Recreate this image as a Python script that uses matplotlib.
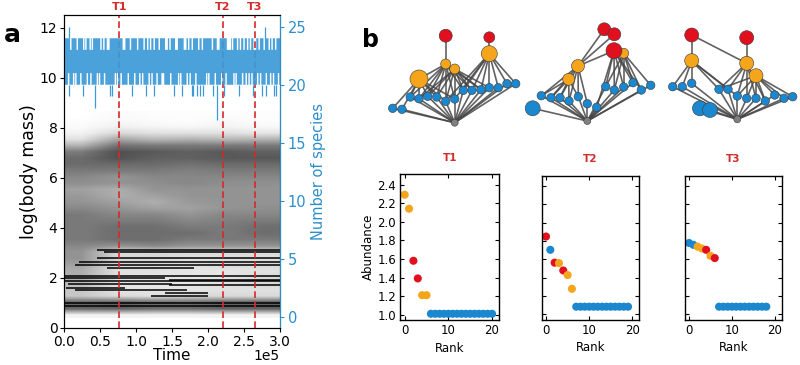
import numpy as np
import matplotlib
matplotlib.use("Agg")
import matplotlib.pyplot as plt
from matplotlib.colors import LinearSegmentedColormap
from matplotlib.collections import LineCollection
from matplotlib.transforms import blended_transform_factory

# ---------------- data: panel a ----------------
snapshot_times = [0.765e5, 2.203e5, 2.648e5]
snapshot_labels = ["T1", "T2", "T3"]

# density of body-mass points (rows: mass 8.5 -> 0.5 step 0.25; cols: time 0-3e5 in 6 blocks)
mass_density = [
    [.00, .02, .01, .01, .01, .01],
    [.01, .03, .02, .01, .03, .01],
    [.02, .06, .04, .03, .05, .03],
    [.05, .15, .12, .12, .12, .10],
    [.12, .35, .28, .30, .28, .30],
    [.30, .55, .52, .52, .52, .52],
    [.52, .68, .65, .62, .65, .62],
    [.58, .68, .62, .62, .65, .65],
    [.58, .58, .58, .55, .58, .58],
    [.52, .52, .52, .50, .52, .52],
    [.47, .42, .47, .47, .47, .47],
    [.44, .42, .44, .47, .44, .44],
    [.37, .32, .42, .42, .42, .42],
    [.40, .32, .37, .42, .42, .42],
    [.42, .37, .32, .40, .42, .42],
    [.47, .42, .37, .37, .42, .44],
    [.52, .47, .47, .42, .47, .47],
    [.52, .52, .52, .47, .50, .52],
    [.52, .57, .57, .52, .52, .57],
    [.52, .57, .57, .57, .52, .57],
    [.52, .57, .57, .52, .52, .52],
    [.47, .42, .47, .42, .42, .42],
    [.42, .15, .15, .15, .15, .15],
    [.42, .15, .15, .12, .12, .12],
    [.37, .15, .15, .12, .15, .15],
    [.32, .12, .12, .10, .10, .12],
    [.32, .12, .10, .10, .10, .15],
    [.27, .10, .10, .10, .12, .15],
    [.22, .10, .10, .10, .12, .12],
    [.22, .15, .12, .15, .15, .15],
    [.60, .62, .58, .58, .62, .62],
    [.60, .62, .58, .58, .62, .62],
    [.05, .05, .05, .05, .05, .05],
]
# persistent lineages: (log mass, start time [1e5], end time [1e5])
lineages = [
    (3.10, 0.45, 3.0), (3.03, 0.55, 3.0), (2.78, 0.45, 3.0), (2.62, 0.20, 3.0),
    (2.50, 0.15, 3.0), (2.40, 0.60, 1.80), (2.05, 0.00, 3.0), (1.98, 0.00, 1.40),
    (1.92, 1.45, 3.0), (1.85, 0.00, 3.0), (1.75, 0.05, 1.50), (1.70, 1.45, 3.0),
    (1.60, 0.02, 0.85), (1.52, 0.15, 1.70), (1.38, 1.40, 2.00), (1.25, 1.20, 2.00),
    (0.98, 0.00, 3.0), (0.88, 0.00, 3.0),
]

# number of species: usual range and deviations (times in 1e5)
species_usual_min = 20
species_usual_max = 24
max23_times = [0.08, 0.17, 0.26, 0.29, 0.35, 0.38, 0.50, 0.54, 0.59, 0.61, 0.81, 0.83,
               0.91, 1.01, 1.10, 1.15, 1.19, 1.24, 1.31, 1.40, 1.42, 1.46, 1.54, 1.56,
               1.66, 1.68, 1.72, 1.77, 1.86, 1.91, 2.05, 2.12, 2.14, 2.26, 2.28, 2.30,
               2.33, 2.40, 2.44, 2.49, 2.54, 2.58, 2.63, 2.65, 2.70, 2.77, 2.84, 2.88, 2.93]
min21_times = [0.05, 0.12, 0.15, 0.22, 0.31, 0.36, 0.45, 0.48, 0.55, 0.70, 0.73, 0.78,
               0.88, 0.97, 1.04, 1.08, 1.17, 1.21, 1.28, 1.35, 1.37, 1.47, 1.58, 1.61,
               1.70, 1.74, 1.82, 1.97, 2.00, 2.09, 2.18, 2.24, 2.35, 2.38, 2.47, 2.52,
               2.56, 2.60, 2.68, 2.72, 2.80, 2.86, 2.90, 2.97]
dip_times = [0.07, 0.26, 0.42, 0.64, 0.67, 0.94, 1.13, 1.25, 1.52, 1.64, 1.77, 1.79,
             1.84, 1.89, 1.93, 2.07, 2.12, 2.22, 2.43, 2.63, 2.75, 2.81, 2.91, 2.94]
dip_values = [19, 19, 18, 19, 19, 19, 19, 19, 19, 19, 19, 19,
              19, 19, 19, 19, 17, 19, 19, 19, 19, 19, 19, 19]
peak_times = [0.07, 2.79]
peak_values = [25, 25]

# ---------------- data: panel b ----------------
rank_t1 = list(range(21))
abund_t1 = [2.29, 2.14, 1.58, 1.39, 1.21, 1.21] + [1.01] * 15
level_t1 = "oorroo" + "b" * 15
rank_t2 = list(range(20))
abund_t2 = [1.85, 1.705, 1.565, 1.56, 1.48, 1.43, 1.28] + [1.085] * 13
level_t2 = "rbroroo" + "b" * 13
rank_t3 = list(range(19))
abund_t3 = [1.78, 1.76, 1.74, 1.72, 1.705, 1.64, 1.615] + [1.085] * 12
level_t3 = "bboorOr".replace("O", "o") + "b" * 12

# food-web networks (node x, y in figure pixels, diameter in px, trophic level)
net1_x = [454.7, 392.7, 402, 410.3, 419, 427.7, 436.7, 445.7, 454.7, 463.3, 472, 481, 489.3, 498.3, 507, 515.7,
          419, 445.7, 454.7, 489.3, 445.7, 489.3]
net1_y = [122.7, 108.3, 109.3, 97, 98.7, 96.3, 97, 101.3, 99, 90.3, 90.3, 89.7, 87.7, 87.7, 83.7, 83.7,
          79, 64, 69, 53.7, 35.7, 37.3]
net1_d = [7] + [8.5] * 15 + [18, 10, 10, 16, 13, 11]
net1_lv = "g" + "b" * 15 + "oooo" + "rr"
net1_edges = ([(0, i) for i in range(1, 16)]
              + [(16, i) for i in (1, 2, 3, 4, 5, 6, 7, 8)]
              + [(17, i) for i in (3, 4, 5, 6, 7, 8, 9, 10, 11)]
              + [(18, i) for i in (4, 5, 6, 7, 8, 9, 10, 11, 12)]
              + [(19, i) for i in (7, 8, 9, 10, 11, 12, 13, 14, 15)]
              + [(20, 17), (21, 19), (16, 17)])

net2_x = [587.3, 532.7, 541.3, 551, 560, 569, 578.3, 587.3, 596.7, 605.7, 614.3, 623.7, 633, 641.3, 650.7,
          578, 568.7, 623.7, 604.3, 614.3, 614]
net2_y = [121, 108.3, 95.7, 97.7, 97.7, 101, 96.7, 103.7, 107.3, 86.7, 90, 87, 82.7, 90, 85.3,
          66, 79.3, 53.3, 29.3, 34.3, 50.7]
net2_d = [7, 15] + [8.5] * 13 + [13, 12, 10, 13, 13, 16]
net2_lv = "g" + "b" * 14 + "ooo" + "rrr"
net2_edges = ([(0, i) for i in range(1, 15)]
              + [(15, i) for i in (2, 3, 4, 5, 6, 7)]
              + [(16, i) for i in (2, 3, 4, 5, 6)]
              + [(17, i) for i in (9, 10, 11, 12, 13, 14)]
              + [(20, i) for i in (8, 9, 10, 11, 12, 13)]
              + [(18, 15), (19, 15), (20, 15), (18, 19), (20, 17)])

net3_x = [737.3, 672.7, 682.3, 691.7, 700, 710, 719, 728, 737.3, 746.7, 756, 765.3, 774.7, 784, 792.7,
          691.7, 746.7, 756, 691.7, 746.7]
net3_y = [119.3, 86.7, 86.7, 83.3, 108.3, 110, 89.3, 89.3, 96, 98.3, 98.3, 101, 95, 98.3, 96.7,
          60.7, 63.3, 75.7, 35, 37.7]
net3_d = [7, 8.5, 8.5, 8.5, 15, 15] + [8.5] * 9 + [14, 14, 14, 14, 14]
net3_lv = "g" + "b" * 14 + "ooo" + "rr"
net3_edges = ([(0, i) for i in range(1, 15)]
              + [(15, i) for i in (1, 2, 3, 6, 7, 8)]
              + [(16, i) for i in (6, 7, 8, 9, 10, 11)]
              + [(17, i) for i in (6, 8, 9, 10, 11, 12, 13, 14)]
              + [(18, 15), (18, 16), (19, 16)])

# ---------------- style ----------------
BLUE = "#1a87cf"
ORANGE = "#f4a51c"
RED = "#e0101f"
GRAY = "#808080"
LINE_BLUE = "#3d9ad8"
AX_BLUE = "#2b8fcc"
TRED = "#d42a2a"
level_color = {"b": BLUE, "o": ORANGE, "r": RED, "g": GRAY}

plt.rcParams["font.family"] = ["DejaVu Sans"]
fig = plt.figure(figsize=(8.0, 3.65), dpi=100)

# ---------------- panel a ----------------
ax = fig.add_axes([0.0804, 0.1022, 0.2696, 0.8567])
cmap = LinearSegmentedColormap.from_list("wk", ["white", "black"])
dens = np.array(mass_density)
ax.imshow(dens, extent=[0, 3e5, 0.375, 8.625], origin="upper", cmap=cmap, vmin=0, vmax=1,
          aspect="auto", interpolation="bilinear", zorder=1)
for m, t0, t1 in lineages:
    ax.plot([t0 * 1e5, t1 * 1e5], [m, m], color="black", lw=1.1, zorder=2, solid_capstyle="butt")
ax.set_xlim(0, 3e5)
ax.set_ylim(0, 12.5)
ax.set_yticks([0, 2, 4, 6, 8, 10, 12])
ax.set_xticks(np.arange(0, 3.01e5, 0.5e5))
ax.ticklabel_format(style="sci", axis="x", scilimits=(0, 0))
ax.xaxis.get_offset_text().set_visible(False)
ax.tick_params(labelsize=10, length=3, pad=2)
ax.set_xlabel("Time", fontsize=11, va="center")
ax.xaxis.set_label_coords(0.5, -(356 - 327.7) / 312.7)
ax.set_ylabel("log(body mass)", fontsize=12.5, labelpad=1)
fig.text(280 / 800, 1 - 356 / 365, "1e5", fontsize=10, ha="right", va="center")
for t, lab in zip(snapshot_times, snapshot_labels):
    ax.axvline(t, color=TRED, lw=1.2, ls=(0, (4, 2)), zorder=3)
trans = blended_transform_factory(ax.transData, ax.transAxes)
for t, lab in zip(snapshot_times, snapshot_labels):
    ax.text(t, 1.008, lab, transform=trans, ha="center", va="bottom", color=TRED,
            fontsize=8, fontweight="bold")

ax2 = ax.twinx()
edges = np.arange(0, 300001, 1000)
lo = np.full(300, species_usual_min, dtype=float)
hi = np.full(300, species_usual_max, dtype=float)
for t in max23_times:
    i = int(round(t * 100))
    hi[i:i + 2] = species_usual_max - 1
for t in min21_times:
    i = int(round(t * 100))
    lo[i:i + 2] = species_usual_min + 1
ax2.stairs(hi, edges, baseline=lo, fill=True, color=LINE_BLUE, alpha=0.93, lw=0)
ax2.vlines(np.array(dip_times) * 1e5, dip_values, species_usual_min, color=LINE_BLUE, lw=0.9)
ax2.vlines(np.array(peak_times) * 1e5, species_usual_max, peak_values, color=LINE_BLUE, lw=0.9)
ax2.set_ylim(-0.9, 26)
ax2.set_yticks([0, 5, 10, 15, 20, 25])
ax2.tick_params(axis="y", colors=AX_BLUE, labelsize=10.5, length=3, pad=2.5)
ax2.spines["right"].set_color(AX_BLUE)
ax2.set_ylabel("Number of species", color=AX_BLUE, fontsize=10.5, labelpad=3)
ax2.set_xlim(0, 3e5)

fig.text(4 / 800, 1 - 35 / 365, "a", fontsize=18, fontweight="bold", ha="left", va="center")
fig.text(362 / 800, 1 - 40 / 365, "b", fontsize=17, fontweight="bold", ha="left", va="center")

# ---------------- networks ----------------
axn = fig.add_axes([340 / 800, 1 - 140 / 365, 460 / 800, 140 / 365])
axn.set_xlim(340, 800)
axn.set_ylim(140, 0)
axn.axis("off")
for xs, ys, ds, lv, ed in [(net1_x, net1_y, net1_d, net1_lv, net1_edges),
                           (net2_x, net2_y, net2_d, net2_lv, net2_edges),
                           (net3_x, net3_y, net3_d, net3_lv, net3_edges)]:
    segs = [[(xs[a], ys[a]), (xs[b], ys[b])] for a, b in ed]
    axn.add_collection(LineCollection(segs, colors="#474747", linewidths=1.2, alpha=0.85, zorder=1))
    order = np.argsort([0 if c == "g" else 1 for c in lv], kind="stable")
    axn.scatter([xs[i] for i in order], [ys[i] for i in order],
                s=[(ds[i] * 0.72) ** 2 for i in order],
                c=[level_color[lv[i]] for i in order],
                edgecolors="#3a3a3a", linewidths=0.4, zorder=2)

# ---------------- rank-abundance ----------------
positions = [[0.5004, 0.1225, 0.1234, 0.400],
             [0.6771, 0.1233, 0.1220, 0.3945],
             [0.8559, 0.1233, 0.1213, 0.3945]]
for k, (pos, r, a, lv, lab) in enumerate(zip(positions, [rank_t1, rank_t2, rank_t3],
                                             [abund_t1, abund_t2, abund_t3],
                                             [level_t1, level_t2, level_t3], snapshot_labels)):
    axr = fig.add_axes(pos)
    axr.scatter(r, a, s=34, c=[level_color[c] for c in lv], edgecolors="none", zorder=2)
    axr.set_xlim(-1, 21.6)
    axr.set_ylim(0.94, 2.51)
    axr.set_xticks([0, 10, 20])
    axr.set_yticks([1.0, 1.2, 1.4, 1.6, 1.8, 2.0, 2.2, 2.4])
    axr.tick_params(direction="in", top=True, right=True, length=3, labelsize=8.5, pad=3)
    if k == 0:
        axr.set_ylabel("Abundance", fontsize=8.5, labelpad=2)
    else:
        axr.tick_params(labelleft=False)
    axr.set_xlabel("Rank", fontsize=8.5, labelpad=3)
    axr.text(0.5, 1.08, lab, transform=axr.transAxes, ha="center", va="bottom",
             color=TRED, fontsize=7.5, fontweight="bold")
    for s in axr.spines.values():
        s.set_linewidth(1.0)

fig.savefig("out.png", dpi=100)
